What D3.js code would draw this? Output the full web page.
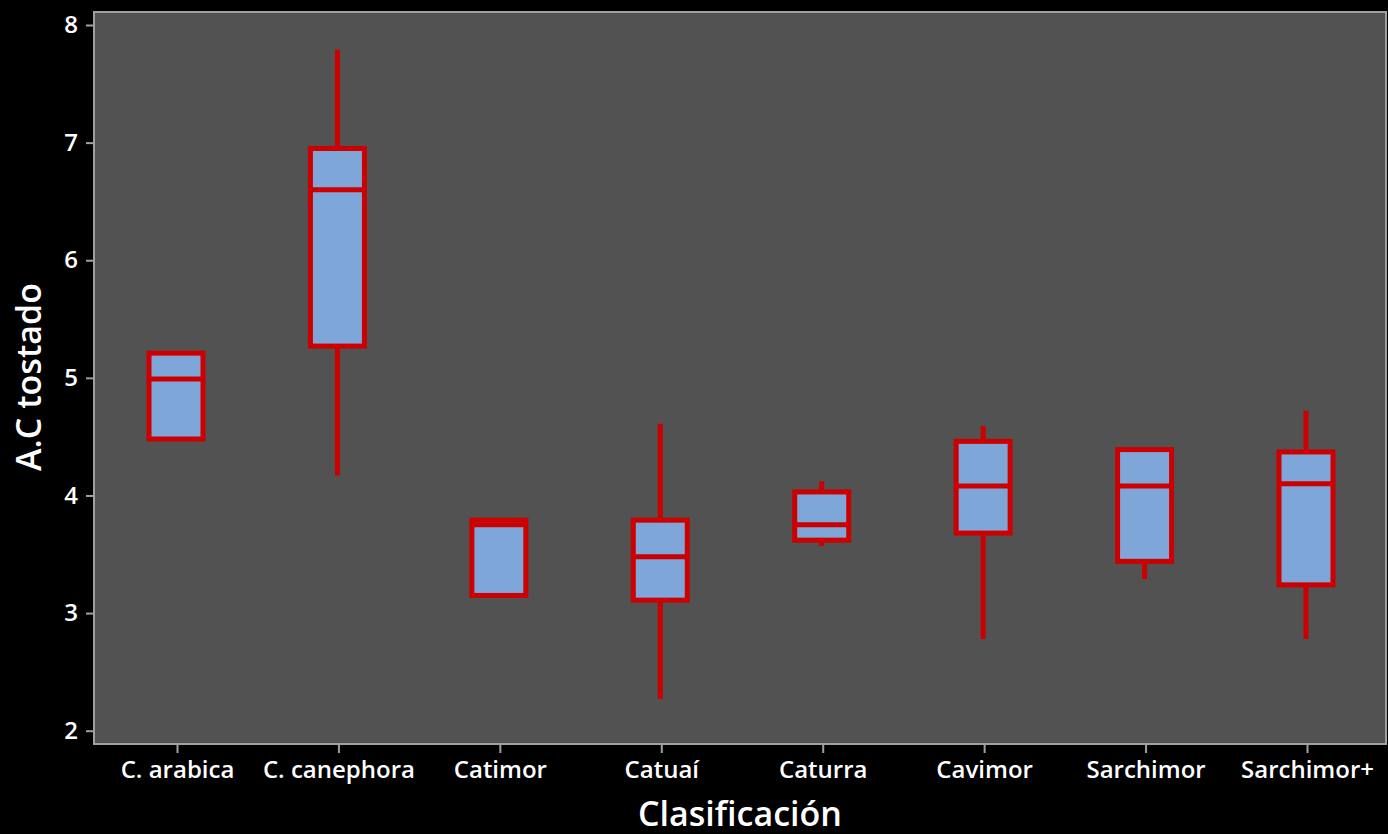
<!DOCTYPE html>
<html><head><meta charset="utf-8">
<script src="https://cdn.jsdelivr.net/npm/d3@7"></script>
<style>html,body{margin:0;padding:0;background:#000;}svg{display:block;}</style>
</head><body>
<svg id="chart" width="1388" height="834"></svg>
<script>
const categories = ["C. arabica","C. canephora","Catimor","Catuaí","Caturra","Cavimor","Sarchimor","Sarchimor+"];
const q1Values     = [4.48, 5.27, 3.15, 3.11, 3.62, 3.68, 3.44, 3.24];
const medianValues = [4.99, 6.60, 3.75, 3.48, 3.75, 4.08, 4.08, 4.10];
const q3Values     = [5.21, 6.95, 3.79, 3.79, 4.03, 4.46, 4.39, 4.37];
const lowValues    = [4.48, 4.17, 3.15, 2.27, 3.57, 2.78, 3.29, 2.78];
const highValues   = [5.21, 7.79, 3.79, 4.61, 4.12, 4.59, 4.39, 4.72];
const yTicks = [2,3,4,5,6,7,8];

const svg = d3.select("#chart");
const plot = {left:94, right:1386, top:12, bottom:744};
const font = "'Open Sans', sans-serif";

const x = d3.scalePoint().domain(categories).range([177,1307]);
const y = d3.scaleLinear().domain([2,8]).range([730.7,25]);

svg.append("rect").attr("x",0).attr("y",0).attr("width",1388).attr("height",834).attr("fill","#000");
svg.append("rect").attr("x",plot.left).attr("y",plot.top)
  .attr("width",plot.right-plot.left).attr("height",plot.bottom-plot.top)
  .attr("fill","#525252").attr("stroke","#a0a0a0").attr("stroke-width",2);

// axes
const yAxis = svg.append("g").attr("transform",`translate(${plot.left-1},0)`)
  .call(d3.axisLeft(y).tickValues(yTicks).tickSize(7).tickPadding(8).tickFormat(d3.format("d")));
const xAxis = svg.append("g").attr("transform",`translate(0,${plot.bottom+1})`)
  .call(d3.axisBottom(x).tickSize(8).tickPadding(8));
[yAxis,xAxis].forEach(g=>{
  g.select(".domain").remove();
  g.selectAll(".tick line").attr("stroke","#a0a0a0").attr("stroke-width",2);
  g.selectAll(".tick text").attr("fill","#fff").attr("font-family",font)
    .attr("font-weight",600).attr("font-size",24);
});

const data = categories.map((c,i)=>({c, q1:q1Values[i], med:medianValues[i], q3:q3Values[i], lo:lowValues[i], hi:highValues[i]}));
const bw = 54, red = "#cc0000";
const g = svg.append("g");
// whiskers
g.selectAll(".wu").data(data.filter(d=>d.hi>d.q3)).join("line")
  .attr("x1",d=>x(d.c)-1).attr("x2",d=>x(d.c)-1).attr("y1",d=>y(d.hi)).attr("y2",d=>y(d.q3))
  .attr("stroke",red).attr("stroke-width",5);
g.selectAll(".wl").data(data.filter(d=>d.lo<d.q1)).join("line")
  .attr("x1",d=>x(d.c)-1).attr("x2",d=>x(d.c)-1).attr("y1",d=>y(d.lo)).attr("y2",d=>y(d.q1))
  .attr("stroke",red).attr("stroke-width",5);
// boxes
g.selectAll(".box").data(data).join("rect")
  .attr("x",d=>x(d.c)-1-bw/2).attr("width",bw)
  .attr("y",d=>y(d.q3)).attr("height",d=>y(d.q1)-y(d.q3))
  .attr("fill","#7ea6d8").attr("stroke",red).attr("stroke-width",5);
// medians
g.selectAll(".med").data(data).join("line")
  .attr("x1",d=>x(d.c)-1-bw/2).attr("x2",d=>x(d.c)-1+bw/2)
  .attr("y1",d=>y(d.med)).attr("y2",d=>y(d.med))
  .attr("stroke",red).attr("stroke-width",5);

// titles
svg.append("text").attr("x",740).attr("y",826).attr("text-anchor","middle")
  .attr("fill","#fff").attr("font-family",font).attr("font-weight",600).attr("font-size",34)
  .text("Clasificación");
svg.append("text").attr("transform","translate(41,377) rotate(-90)").attr("text-anchor","middle")
  .attr("fill","#fff").attr("font-family",font).attr("font-weight",600).attr("font-size",34)
  .text("A.C tostado");
</script>
</body></html>
